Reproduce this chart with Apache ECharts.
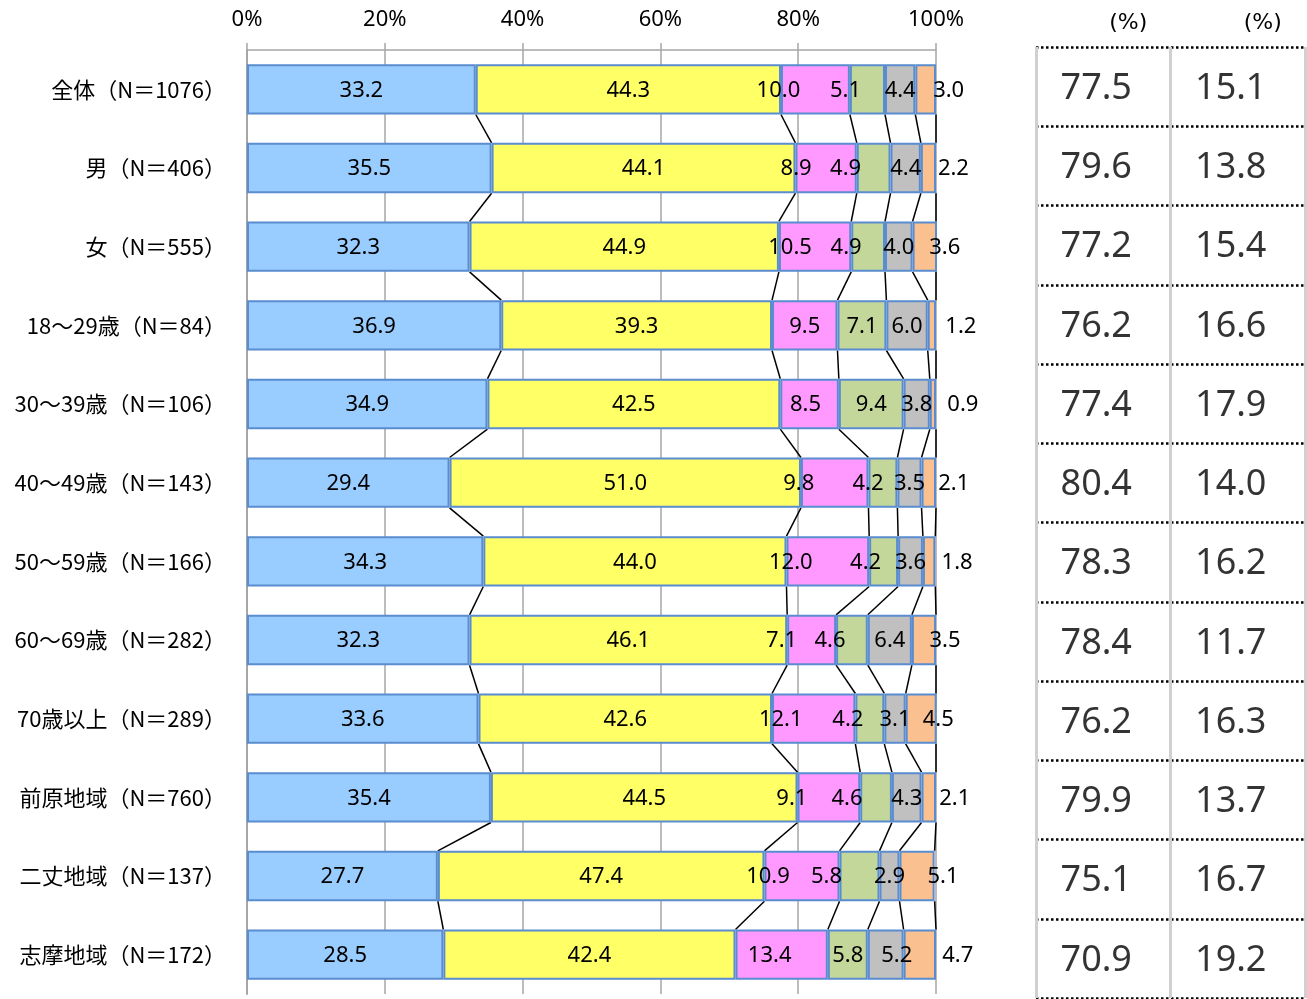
<!DOCTYPE html>
<html><head><meta charset="utf-8">
<script src="https://cdn.jsdelivr.net/npm/echarts@6/dist/echarts.min.js"></script>
<style>html,body{margin:0;padding:0;background:#fff}#c{width:1307px;height:999px}</style>
</head><body><div id="c"></div>
<script>
// ---- data ----
const categories = ['全体（N＝1076）','男（N＝406）','女（N＝555）','18～29歳（N＝84）','30～39歳（N＝106）','40～49歳（N＝143）','50～59歳（N＝166）','60～69歳（N＝282）','70歳以上（N＝289）','前原地域（N＝760）','二丈地域（N＝137）','志摩地域（N＝172）'];
const seg1 = [33.2,35.5,32.3,36.9,34.9,29.4,34.3,32.3,33.6,35.4,27.7,28.5];
const seg2 = [44.3,44.1,44.9,39.3,42.5,51.0,44.0,46.1,42.6,44.5,47.4,42.4];
const seg3 = [10.0,8.9,10.5,9.5,8.5,9.8,12.0,7.1,12.1,9.1,10.9,13.4];
const seg4 = [5.1,4.9,4.9,7.1,9.4,4.2,4.2,4.6,4.2,4.6,5.8,5.8];
const seg5 = [4.4,4.4,4.0,6.0,3.8,3.5,3.6,6.4,3.1,4.3,2.9,5.2];
const seg6 = [3.0,2.2,3.6,1.2,0.9,2.1,1.8,3.5,4.5,2.1,5.1,4.7];
const totalA = [77.5,79.6,77.2,76.2,77.4,80.4,78.3,78.4,76.2,79.9,75.1,70.9];
const totalB = [15.1,13.8,15.4,16.6,17.9,14.0,16.2,11.7,16.3,13.7,16.7,19.2];
const tableHeaders = ['(%)','(%)'];

// ---- styling (label shifts, colours) ----
const segColors = ['#99CCFF','#FFFF66','#FF99FF','#C4D79B','#C0C0C0','#FAC090'];
const labelShiftX = [
  null,
  null,
  [-37,-30,-25,0,-4,-36,-37,-30,-33,-37,-34,-12],
  [-22,-28,-22,0,0,-15,-18,-22,-22,-29,-33,0],
  [0,0,0,0,0,0,0,0,0,0,0,11],
  [23,25,20,29,30,25,28,21,17,26,26,38]
];
const BAR_RATIO = 0.64;
const segs = [seg1,seg2,seg3,seg4,seg5,seg6];

// cumulative boundaries for connector lines
const cum = categories.map((_, i) => {
  let s = 0; return segs.map(arr => { s += arr[i]; return Math.min(s, 100); });
});
const connectorData = [];
for (let i = 0; i < categories.length - 1; i++) {
  for (let k = 0; k < segs.length; k++) connectorData.push([cum[i][k], i, cum[i+1][k]]);
}

const chart = echarts.init(document.getElementById('c'), null, {renderer:'canvas'});
const NUM_FONT = 'Noto Sans, DejaVu Sans, sans-serif';
const barSeries = segs.map((arr, s) => ({
  type: 'bar', name: 'seg' + (s+1), stack: 'total', xAxisIndex: 0, yAxisIndex: 0,
  barWidth: (BAR_RATIO*100) + '%',
  itemStyle: {color: segColors[s], borderColor: '#5A8CD0', borderWidth: 2},
  label: {show: true, position: 'inside', color: '#000', fontSize: 22, fontFamily: NUM_FONT,
    formatter: p => p.value.toFixed(1)},
  data: arr.map((v, i) => ({value: v, label: {offset: [labelShiftX[s] ? labelShiftX[s][i] : 0, 1]}})),
  z: 3
}));

chart.setOption({
  animation: false,
  grid: [
    {left: 247, top: 50, width: 689, height: 944},
    {left: 1036, top: 47, width: 269, height: 951}
  ],
  xAxis: [
    {type: 'value', gridIndex: 0, position: 'top', min: 0, max: 100, interval: 20,
     axisLine: {show: true, lineStyle: {color: '#A6A6A6', width: 1.5}},
     axisTick: {show: true, length: 7, lineStyle: {color: '#A6A6A6', width: 1.5}},
     axisLabel: {color: '#000', fontSize: 22, fontFamily: NUM_FONT, margin: 19, formatter: v => v + '%'},
     splitLine: {show: true, lineStyle: {color: '#A6A6A6', width: 1.5}}},
    {type: 'category', gridIndex: 1, position: 'top', data: tableHeaders,
     axisLine: {show: false}, axisTick: {show: false},
     axisLabel: {margin: 13, formatter: v => '{h|' + v + '}',
       rich: {h: {color: '#000', fontSize: 22, fontFamily: 'DejaVu Sans, sans-serif', padding: [0,0,0,50]}}},
     splitLine: {show: true, lineStyle: {color: '#D0D0D0', width: 3}}}
  ],
  yAxis: [
    {type: 'category', gridIndex: 0, data: categories, inverse: true,
     axisLine: {show: true, lineStyle: {color: '#A6A6A6', width: 2}},
     axisTick: {show: false},
     axisLabel: {color: '#000', fontSize: 22, fontFamily: 'Noto Sans CJK JP, sans-serif', margin: 21}},
    {type: 'category', gridIndex: 1, data: categories, inverse: true,
     axisLine: {show: false}, axisTick: {show: false}, axisLabel: {show: false},
     splitLine: {show: true, lineStyle: {color: '#000', width: 2.5, type: 'dotted'}}}
  ],
  series: barSeries.concat([
    {type: 'custom', xAxisIndex: 0, yAxisIndex: 0, z: 2,
     encode: {x: 0, y: 1},
     data: connectorData,
     renderItem: function (params, api) {
       const r = api.value(1);
       const a = api.coord([api.value(0), r]);
       const b = api.coord([api.value(2), r + 1]);
       const half = api.size([0, 1])[1] * BAR_RATIO / 2;
       return {type: 'line', shape: {x1: a[0], y1: a[1] + half, x2: b[0], y2: b[1] - half},
               style: {stroke: '#000', lineWidth: 1.5}};
     }},
    {type: 'scatter', xAxisIndex: 1, yAxisIndex: 1, symbolSize: 1, z: 5,
     itemStyle: {color: 'rgba(0,0,0,0)'},
     label: {show: true, position: 'inside', color: '#000', fontSize: 36, fontFamily: NUM_FONT,
       offset: [-7, 2], formatter: p => p.value[2].toFixed(1)},
     data: totalA.map((v, i) => [0, i, v]).concat(totalB.map((v, i) => [1, i, v]))}
  ])
});
</script></body></html>
